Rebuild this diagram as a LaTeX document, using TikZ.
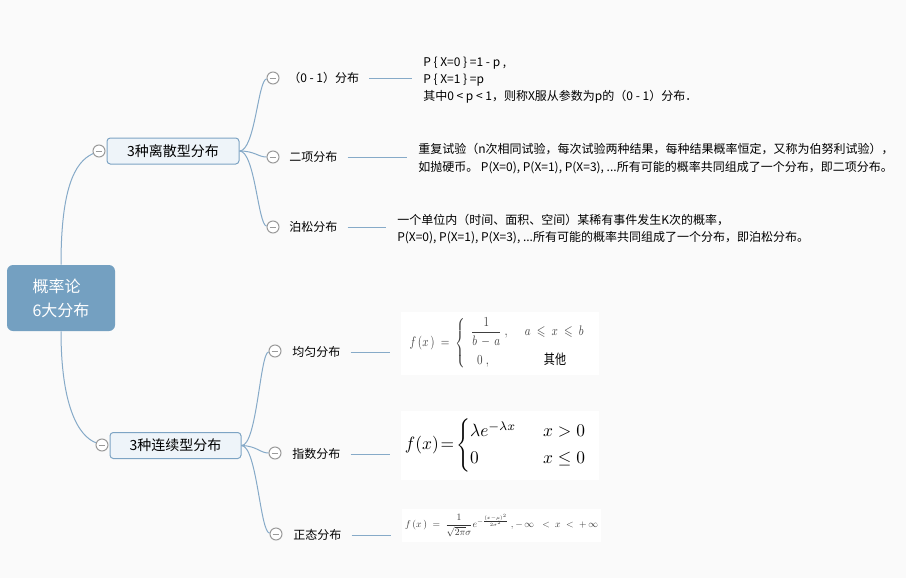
\documentclass[tikz,border=0pt]{standalone}
\usepackage{amsmath,amssymb}
\usepackage{graphicx}
\usepackage{fontspec}
\setmainfont{Noto Sans CJK SC}
\usetikzlibrary{calc}
\definecolor{bg}{HTML}{FAFAFA}
\definecolor{rootfill}{HTML}{74A0C1}
\definecolor{subfill}{HTML}{EEF4F9}
\definecolor{subdraw}{HTML}{7DA4C4}
\definecolor{linkc}{HTML}{86AAC8}
\definecolor{circc}{HTML}{9A9A9A}
\begin{document}
\begin{tikzpicture}[x=0.75pt,y=-0.75pt,
  rootbox/.style={rounded corners=4.5pt, fill=rootfill, text=white, minimum width=81pt, minimum height=49.5pt, align=left, inner sep=0pt, font=\fontsize{12}{18}\selectfont},
  subbox/.style={rounded corners=2.5pt, draw=subdraw, fill=subfill, line width=0.75pt, minimum height=19.5pt, inner sep=0pt, font=\fontsize{10.5}{12}\selectfont},
  collapse/.style={circle, draw=circc, fill=white, line width=0.75pt, minimum size=9pt, inner sep=0pt,
    path picture={\draw[circc, line width=0.75pt] ([xshift=2pt]path picture bounding box.west) -- ([xshift=-2pt]path picture bounding box.east);}},
  leaftext/.style={anchor=west, inner sep=0pt, font=\fontsize{9}{12}\selectfont},
  detail/.style={anchor=west, inner sep=0pt, align=left, font=\fontsize{9}{13}\selectfont},
  formula/.style={fill=white, inner sep=0pt},
  link/.style={draw=linkc, line width=0.75pt},
  leafline/.style={draw=linkc, line width=0.75pt, shorten <=7.5pt, shorten >=8pt}
]
\fill[bg] (0,0) rectangle (906,578);
\useasboundingbox (0,0) rectangle (906,578);

% root and main topics
\node[rootbox] (root) at (61,298) {概率论\\6大分布};
\node[subbox, minimum width=99pt] (disc) at (173,151) {3种离散型分布};
\node[subbox, minimum width=98.25pt] (cont) at (175.5,445.5) {3种连续型分布};
\node[collapse] (dc) at (99,151) {};
\node[collapse] (cc) at (102,445) {};

\draw[link] (root.north) .. controls (61,190) and (74,162) .. (dc);
\draw[link] (root.south) .. controls (61,405) and (78,436) .. (cc);

% discrete leaves
\node[collapse] (c01) at (273,78) {};
\node[collapse] (c02) at (273,157) {};
\node[collapse] (c03) at (273,227) {};
\node[leaftext] (t01) at (288,78) {（0 - 1）分布};
\node[leaftext] (t02) at (289,157) {二项分布};
\node[leaftext] (t03) at (289,227) {泊松分布};

\draw[link] (disc.east) .. controls (255,151) and (258,80) .. (c01);
\draw[link] (disc.east) .. controls (255,151) and (258,157) .. (c02);
\draw[link] (disc.east) .. controls (255,151) and (258,225) .. (c03);

\node[detail] (d01) at (423,80) {P \{ X=0 \} =1 - p ,\\P \{ X=1 \} =p\\其中0 < p < 1，则称X服从参数为p的（0 - 1）分布．};
\node[detail] (d02) at (418,158.5) {重复试验（n次相同试验，每次试验两种结果，每种结果概率恒定，又称为伯努利试验），\\如抛硬币。 P(X=0), P(X=1), P(X=3), ...所有可能的概率共同组成了一个分布，即二项分布。};
\node[detail] (d03) at (397,229) {一个单位内（时间、面积、空间）某稀有事件发生K次的概率，\\P(X=0), P(X=1), P(X=3), ...所有可能的概率共同组成了一个分布，即泊松分布。};

\draw[leafline] (t01.east) -- (t01.east -| d01.west);
\draw[leafline] (t02.east) -- (t02.east -| d02.west);
\draw[leafline] (t03.east) -- (t03.east -| d03.west);

% continuous leaves
\node[collapse] (c04) at (275,351) {};
\node[collapse] (c05) at (275,453) {};
\node[collapse] (c06) at (276,534) {};
\node[leaftext] (t04) at (292,352) {均匀分布};
\node[leaftext] (t05) at (292,454) {指数分布};
\node[leaftext] (t06) at (293,535) {正态分布};

\draw[link] (cont.east) .. controls (257,446) and (260,353) .. (c04);
\draw[link] (cont.east) .. controls (257,446) and (260,453) .. (c05);
\draw[link] (cont.east) .. controls (257,446) and (260,532) .. (c06);

\node[formula, minimum width=148.5pt, minimum height=47.25pt] (f04) at (500,343.5)
  {\color{black!75}\resizebox*{135.75pt}{39pt}{$f\,(x\,)\;=\;\left\{\begin{array}{ll}\dfrac{1}{b\,-\,a}\;, & \;\;a\;\leqslant\;x\;\leqslant\;b\\[9pt] \;\;0\;, & \qquad\;\text{\color{black}其他}\end{array}\right.$}};
\node[formula, minimum width=148.5pt, minimum height=51.75pt] (f05) at (500,445.5)
  {\hspace*{-6pt}\resizebox*{136.5pt}{40pt}{$f(x)\!=\!\left\{\begin{array}{@{}l@{\quad\;\;}r@{}}\lambda e^{-\lambda x} & x>0\\[3pt] 0 & x\le 0\end{array}\right.$}};
\node[formula, minimum width=149.25pt, minimum height=24.75pt] (f06) at (501.5,525.5)
  {\color{black!80}\resizebox{144.75pt}{!}{$f\,(x\,)\;=\;\dfrac{1}{\sqrt{2\pi}\sigma}e^{-\frac{(x-\mu)^2}{2\sigma^2}}\;,-\,\infty\;\;<\;x\;<\;+\,\infty$}};

\draw[leafline, shorten >=8.25pt] (t04.east) -- (t04.east -| f04.west);
\draw[leafline, shorten >=8.25pt] (t05.east) -- (t05.east -| f05.west);
\draw[leafline, shorten >=8.25pt] (t06.east) -- (t06.east -| f06.west);
\end{tikzpicture}
\end{document}
